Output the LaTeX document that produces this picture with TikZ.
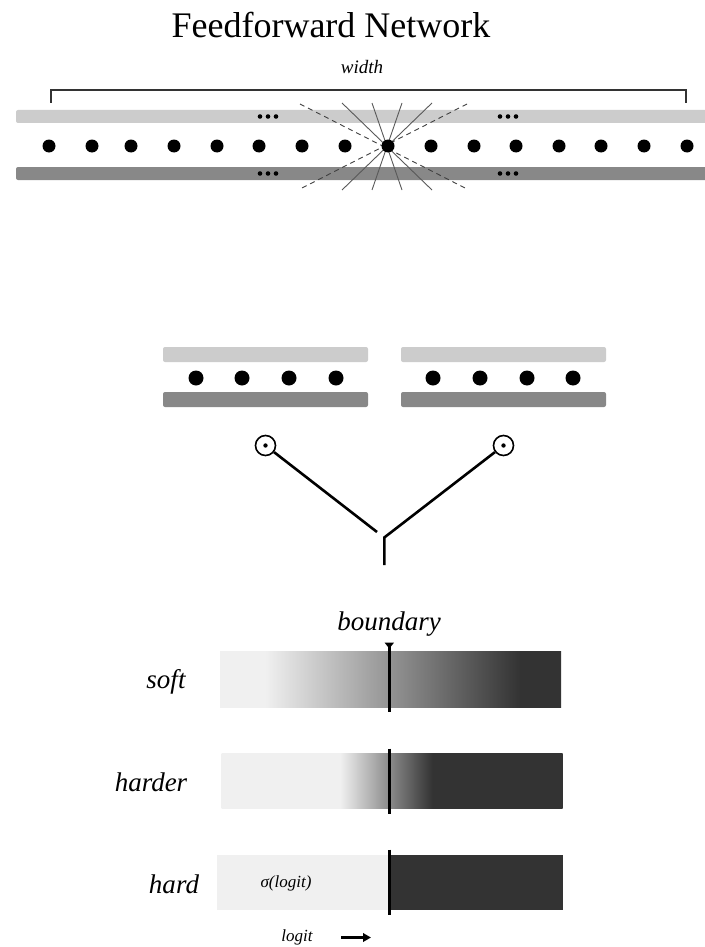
\documentclass[tikz,border=0pt]{standalone}
\usepackage{fontspec}
\setmainfont{Liberation Serif}
\usetikzlibrary{arrows.meta}
\definecolor{barlight}{HTML}{CCCCCC}
\definecolor{bardark}{HTML}{888888}
\definecolor{pale}{HTML}{F0F0F0}
\definecolor{ink}{HTML}{333333}
% horizontal ramps: the path's box maps onto 25bp..75bp
\pgfdeclarehorizontalshading{softramp}{100bp}{color(0bp)=(pale); color(31.6bp)=(pale); color(69bp)=(ink); color(100bp)=(ink)}
\pgfdeclarehorizontalshading{harderramp}{100bp}{color(0bp)=(pale); color(42.4bp)=(pale); color(55.9bp)=(ink); color(100bp)=(ink)}
\begin{document}
\begin{tikzpicture}[x=1pt,y=-1pt,
  unitdot/.style={circle,fill=black,inner sep=0pt,minimum size=13pt},
  smalldot/.style={circle,fill=black,inner sep=0pt,minimum size=15pt},
  elldot/.style={circle,fill=black,inner sep=0pt,minimum size=4.6pt},
  fanline/.style={draw=black!65,line width=0.9pt},
  fandash/.style={draw=black!75,line width=0.9pt,dash pattern=on 5pt off 4pt},
  lightbar/.style={fill=barlight,rounded corners=2pt},
  darkbar/.style={fill=bardark,rounded corners=2pt},
  prodnode/.style={circle,draw=black,line width=1.6pt,inner sep=0pt,minimum size=20pt},
  wire/.style={draw=black,line width=2.6pt},
  bnd/.style={draw=black,line width=2.7pt},
  lbl/.style={font=\fontsize{27}{30}\selectfont\itshape,anchor=center},
]
\useasboundingbox (0,0) rectangle (704,947);
\fill[white] (0,0) rectangle (704,947);

% ---- title and width bracket ----
\node[font=\fontsize{36}{40}\selectfont] (title) at (331,25) {Feedforward Network};
\node[font=\fontsize{19}{22}\selectfont\itshape] (wlabel) at (362,67) {width};
\draw[black!80,line width=1.2pt] (51,103) -- (51,90) -- (686,90) -- (686,103);

% ---- wide layer ----
\fill[lightbar] (16,110) rectangle (710,123);
\fill[darkbar] (16,167) rectangle (710,180);

% connections fanning through the centre unit
\draw[fandash] (300,104) -- (467,189);
\draw[fandash] (467,104) -- (300,189);
\foreach \a/\b in {342/432,372/402,402/372,432/342}
  \draw[fanline] (\a,103) -- (\b,190);

\foreach \i/\x in {1/49,2/92,3/131,4/174,5/217,6/259,7/302,8/345,9/388,10/431,11/474,12/516,13/559,14/601,15/644,16/687}
  \node[unitdot] (u\i) at (\x,146) {};

\foreach \cx in {268,508}{
  \foreach \dx in {-8,0,8}{
    \node[elldot] at (\cx+\dx,116.5) {};
    \node[elldot] at (\cx+\dx,173.5) {};
  }
}

% ---- two narrow layers ----
\fill[lightbar] (163,347) rectangle (368,362);
\fill[darkbar] (163,392) rectangle (368,407);
\fill[lightbar] (401,347) rectangle (606,362);
\fill[darkbar] (401,392) rectangle (606,407);
\foreach \i/\x in {1/196,2/242,3/289,4/336}
  \node[smalldot] (a\i) at (\x,378) {};
\foreach \i/\x in {1/433,2/480,3/527,4/573}
  \node[smalldot] (b\i) at (\x,378) {};

% ---- elementwise products merging ----
\node[prodnode] (pl) at (265.5,445.5) {};
\node[prodnode] (pr) at (503.5,445.5) {};
\fill (pl.center) circle (2.2pt);
\fill (pr.center) circle (2.2pt);
\coordinate (jl) at (377,532);
\coordinate (jr) at (384.3,537.5);
\coordinate (jout) at (384.3,565);
\draw[wire] (pl) -- (jl);
\draw[wire] (pr) -- (jr) -- (jout);

% ---- sigmoid sharpness bars ----
\node[font=\fontsize{27}{30}\selectfont\itshape] (bl) at (389,624) {boundary};

% soft
\shade[shading=softramp] (220,651.5) rectangle (561,707.5);
\node[lbl] (soft) at (166,682) {soft};
\coordinate (s1) at (389.3,645);
\coordinate (s2) at (389.3,712);
\draw[bnd] (s1) -- (s2);
\fill (384.5,642.5) -- (394.1,642.5) -- (389.3,648.5) -- cycle;

% harder
\shade[shading=harderramp] (221.5,753.5) rectangle (562.5,808.5);
\node[lbl] (harder) at (151,782) {harder};
\coordinate (h1) at (389.3,748.5);
\coordinate (h2) at (389.3,813.5);
\draw[bnd] (h1) -- (h2);

% hard
\fill[pale] (216.5,854.5) rectangle (389.3,910);
\fill[ink] (389.3,854.5) rectangle (562.5,910);
\node[lbl] (hard) at (174,884) {hard};
\node[font=\fontsize{17}{20}\selectfont\itshape] (sig) at (286,883) {σ(logit)};
\coordinate (k1) at (389.3,849.5);
\coordinate (k2) at (389.3,915);
\draw[bnd] (k1) -- (k2);

% logit axis
\node[font=\fontsize{17}{19}\selectfont\itshape] (lg) at (297,937) {logit};
\coordinate (ar0) at (341,937.5);
\coordinate (ar1) at (371,937.5);
\draw[black,line width=2.2pt,-{Triangle[length=8pt,width=8.5pt]}] (ar0) -- (ar1);
\end{tikzpicture}
\end{document}
